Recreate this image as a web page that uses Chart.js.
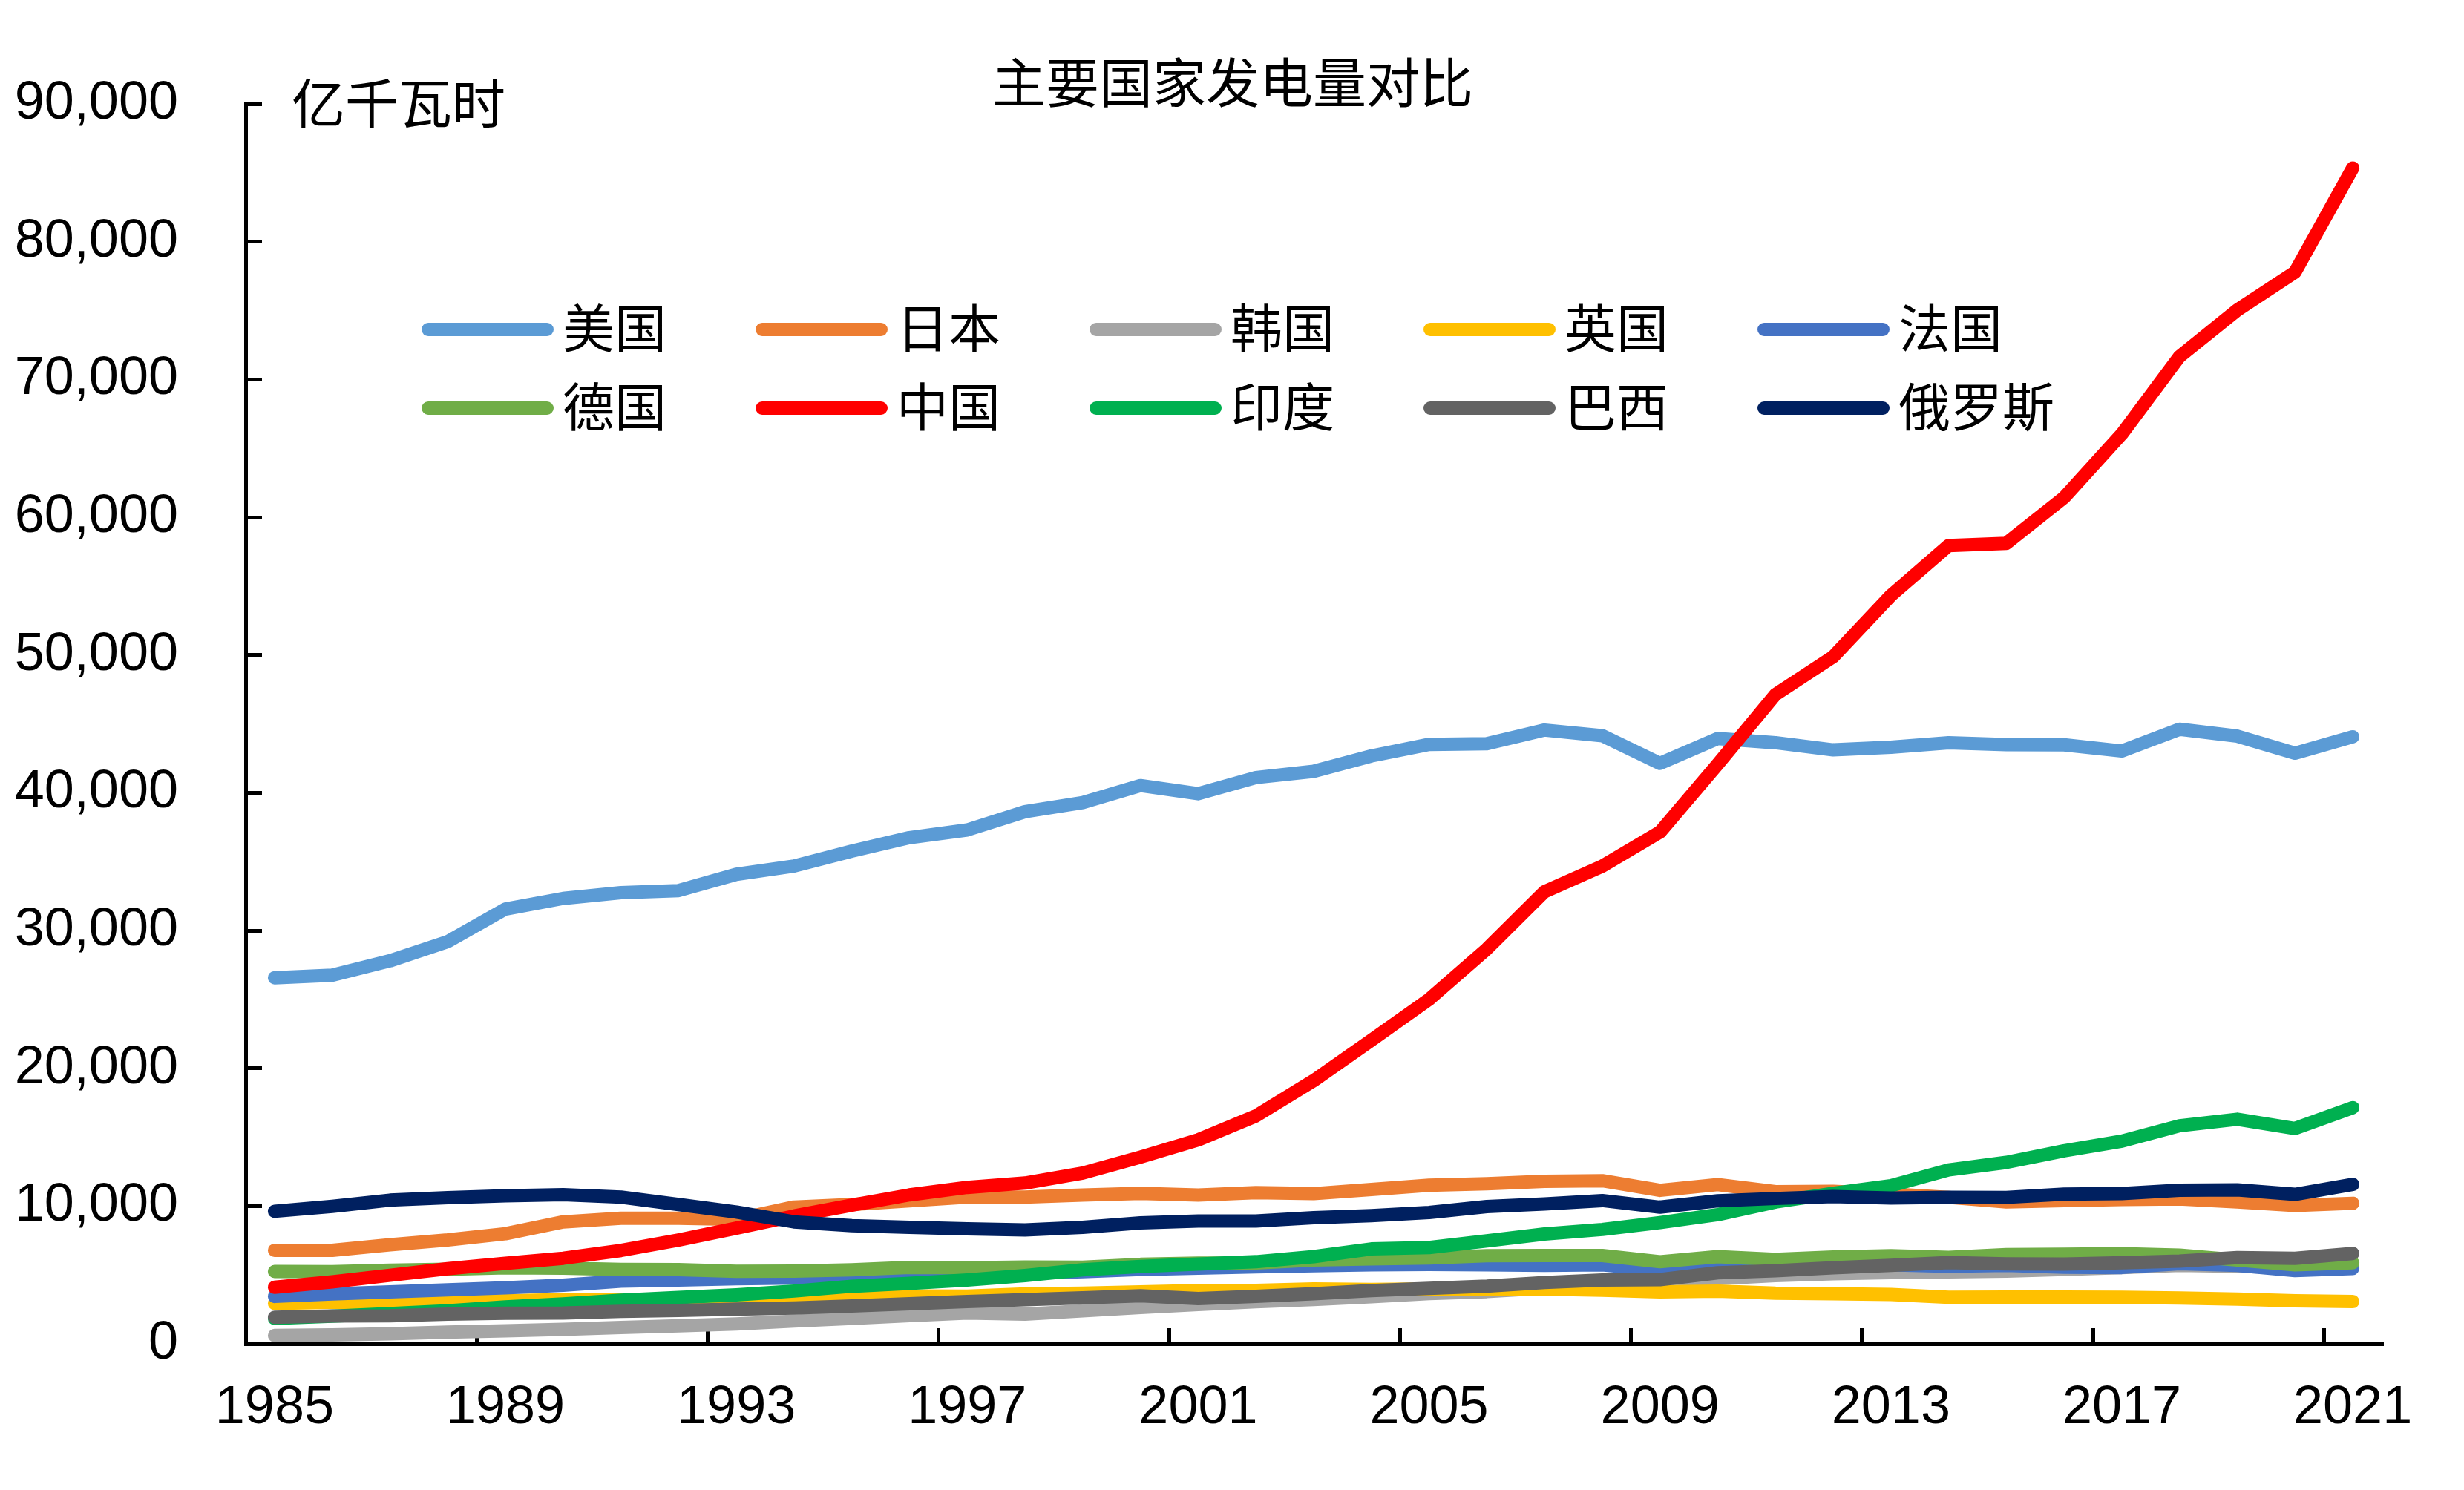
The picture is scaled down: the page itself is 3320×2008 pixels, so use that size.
<!DOCTYPE html>
<html>
<head>
<meta charset="utf-8">
<script src="https://cdn.jsdelivr.net/npm/chart.js@4"></script>
<style>
html,body{margin:0;padding:0;background:#fff;}
#wrap{width:3320px;height:2008px;}
</style>
</head>
<body>
<div id="wrap"><canvas id="c" width="3320" height="2008" style="width:3320px;height:2008px"></canvas></div>
<script>
const chartTitle = '主要国家发电量对比';
const unitLabel = '亿千瓦时';
const years = ['1985','1986','1987','1988','1989','1990','1991','1992','1993','1994','1995','1996','1997','1998','1999','2000','2001','2002','2003','2004','2005','2006','2007','2008','2009','2010','2011','2012','2013','2014','2015','2016','2017','2018','2019','2020','2021'];
const seriesNames = ['美国','日本','韩国','英国','法国','德国','中国','印度','巴西','俄罗斯'];
const seriesColors = ['#5B9BD5','#ED7D31','#A5A5A5','#FFC000','#4472C4','#70AD47','#FF0000','#00B050','#636363','#002060'];

const usa     = [26570,26760,27800,29190,31560,32330,32750,32900,34080,34680,35760,36740,37300,38620,39290,40520,39930,41100,41550,42670,43510,43560,44550,44140,42130,43940,43630,43110,43300,43630,43490,43480,43030,44610,44110,42870,44060];
const japan   = [6790,6790,7190,7540,7990,8850,9120,9120,9030,9930,10110,10380,10650,10650,10800,10920,10800,10980,10900,11200,11510,11620,11800,11840,11140,11560,11040,11070,10880,10630,10300,10400,10480,10520,10300,10040,10200];
const korea   = [600,640,730,850,940,1050,1180,1310,1440,1650,1850,2050,2240,2150,2390,2640,2850,3060,3220,3420,3650,3790,4040,4220,4340,4740,4960,5090,5170,5220,5280,5400,5530,5700,5630,5520,5770];
const uk      = [2930,3010,3010,3050,3130,3200,3230,3210,3230,3250,3350,3480,3460,3620,3680,3770,3860,3880,3980,3940,3980,3970,3970,3890,3770,3820,3680,3640,3580,3380,3390,3390,3380,3330,3250,3130,3070];
const france  = [3440,3620,3770,3920,4070,4250,4550,4630,4720,4780,4940,5130,5050,5110,5240,5400,5490,5590,5670,5740,5760,5740,5700,5740,5360,5690,5630,5650,5740,5630,5700,5560,5540,5820,5700,5320,5470];
const germany = [5250,5240,5340,5410,5520,5500,5400,5380,5270,5280,5370,5550,5520,5570,5560,5770,5860,5870,6090,6170,6230,6400,6410,6410,5960,6330,6130,6300,6390,6280,6480,6510,6540,6440,6090,5740,5880];
const china   = [4107,4495,4973,5452,5848,6212,6775,7539,8395,9281,10070,10813,11356,11670,12393,13556,14808,16540,19106,22033,25003,28657,32816,34669,37147,42072,47130,49876,54316,57945,58106,61425,66044,71661,75034,77790,85342];
const india   = [1840,2010,2200,2400,2680,2890,3170,3370,3560,3830,4180,4390,4630,4960,5370,5620,5790,5960,6330,6890,6990,7470,7970,8300,8800,9380,10290,10920,11480,12620,13170,14010,14710,15830,16300,15630,17140];
const brazil  = [1930,2020,2030,2150,2220,2230,2350,2420,2520,2600,2750,2910,3070,3210,3340,3490,3280,3450,3640,3870,4030,4190,4450,4630,4660,5160,5310,5520,5700,5900,5810,5790,5890,6010,6260,6210,6560];
const russia  = [9620,9980,10430,10610,10740,10830,10650,10110,9570,8850,8580,8460,8350,8270,8460,8780,8910,8910,9160,9310,9530,9960,10150,10400,9920,10380,10550,10690,10590,10640,10630,10870,10910,11150,11180,10850,11570];

const yTicks = [0,10000,20000,30000,40000,50000,60000,70000,80000,90000];
const seriesValues = [usa,japan,korea,uk,france,germany,china,india,brazil,russia];

const datasets = seriesNames.map((name,i)=>({
  label: name,
  data: seriesValues[i],
  borderColor: seriesColors[i],
  backgroundColor: seriesColors[i],
  borderWidth: 18,
  borderCapStyle: 'round',
  borderJoinStyle: 'round',
  pointRadius: 0,
  pointHoverRadius: 0,
  tension: 0,
  fill: false,
  order: seriesNames.length - i
}));

const cjk = "'Noto Sans CJK SC','Noto Sans CJK TC',sans-serif";

const decorPlugin = {
  id: 'decor',
  afterDraw(chart){
    const ctx = chart.ctx;
    ctx.save();
    ctx.fillStyle = '#000';
    ctx.textBaseline = 'middle';
    ctx.font = "72px " + cjk;
    ctx.textAlign = 'center';
    ctx.fillText(chartTitle, 1661, 111);
    ctx.textAlign = 'left';
    ctx.fillText(unitLabel, 393, 139);
    ctx.font = "70px " + cjk;
    for (let i = 0; i < seriesNames.length; i++){
      const col = i % 5, row = Math.floor(i / 5);
      const x0 = 568 + 450 * col;
      const y = 444 + 106 * row;
      ctx.strokeStyle = seriesColors[i];
      ctx.lineWidth = 18;
      ctx.lineCap = 'round';
      ctx.beginPath();
      ctx.moveTo(x0 + 9, y);
      ctx.lineTo(x0 + 169, y);
      ctx.stroke();
      ctx.fillStyle = '#000';
      ctx.fillText(seriesNames[i], x0 + 190, y - 2);
    }
    ctx.restore();
  }
};

const chartOptions = {
  responsive: false,
  animation: false,
  devicePixelRatio: 1,
  layout: { padding: { top: 140, right: 111, bottom: 0, left: 0 } },
  plugins: { legend: { display: false }, tooltip: { enabled: false }, title: { display: false } },
  scales: {
    x: {
      type: 'category',
      offset: true,
      grid: {
        offset: true,
        drawOnChartArea: false,
        drawTicks: true,
        tickLength: -21,
        lineWidth: 5,
        color: (c) => (c.index !== undefined && c.index % 4 === 0 && c.index < years.length) ? '#000' : 'rgba(0,0,0,0)'
      },
      border: { display: true, color: '#000', width: 5 },
      ticks: {
        autoSkip: false,
        maxRotation: 0,
        minRotation: 0,
        padding: 65,
        color: '#000',
        font: { family: "'Liberation Sans', Arial, sans-serif", size: 72 },
        callback: function(v, i){ return i % 4 === 0 ? years[i] : ''; }
      },
      afterFit(scale){ scale.height = 197; }
    },
    y: {
      min: 0,
      max: 90000,
      afterBuildTicks(scale){ scale.ticks = yTicks.map(v => ({ value: v })); },
      grid: {
        drawOnChartArea: false,
        drawTicks: true,
        tickLength: -22,
        lineWidth: 5,
        color: '#000'
      },
      border: { display: true, color: '#000', width: 5 },
      ticks: {
        padding: 113,
        color: '#000',
        font: { family: "'Liberation Sans', Arial, sans-serif", size: 72 },
        callback: (v) => Number(v).toLocaleString('en-US')
      },
      afterFit(scale){
        scale.width = 331;
        scale.paddingTop = 0;
        scale.paddingBottom = 0;
      }
    }
  }
};

const chart = new Chart(document.getElementById('c'), {
  type: 'line',
  data: { labels: years, datasets },
  options: chartOptions,
  plugins: [decorPlugin]
});

// nudge layout padding so the plot area lands where the reference has it
const targetArea = { top: 140, right: 3209, bottom: 1811 };
for (let k = 0; k < 4; k++) {
  const a = chart.chartArea;
  const p = chart.config.options.layout.padding;
  const dt = targetArea.top - a.top;
  const dr = a.right - targetArea.right;
  const db = a.bottom - targetArea.bottom;
  if (Math.abs(dt) < 0.5 && Math.abs(dr) < 0.5 && Math.abs(db) < 0.5) break;
  p.top = Math.max(0, p.top + dt);
  p.right = Math.max(0, p.right + dr);
  p.bottom = Math.max(0, p.bottom + db);
  chart.update();
}
</script>
</body>
</html>
